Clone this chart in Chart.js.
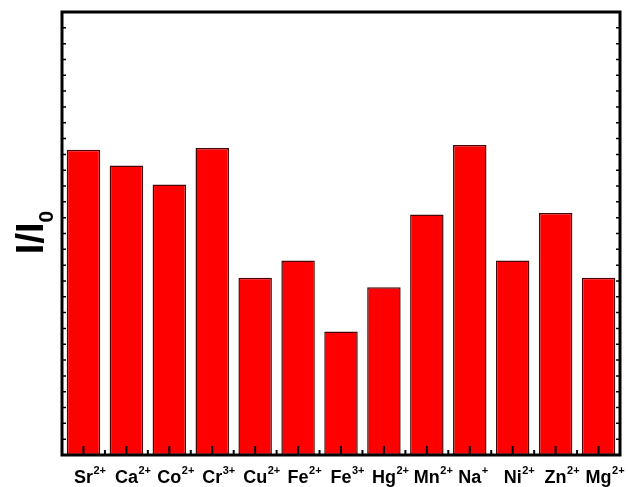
<!DOCTYPE html>
<html>
<head>
<meta charset="utf-8">
<script src="https://cdn.jsdelivr.net/npm/chart.js@4/dist/chart.umd.min.js"></script>
<style>
  html, body { margin: 0; padding: 0; background: #fff; }
  #wrap { width: 628px; height: 487px; position: relative; }
</style>
</head>
<body>
<div id="wrap"><canvas id="c" width="628" height="487"></canvas></div>
<script>
// Metal ions tested and their charges (drawn as superscripts)
const ions    = ['Sr', 'Ca', 'Co', 'Cr', 'Cu', 'Fe', 'Fe', 'Hg', 'Mn', 'Na', 'Ni', 'Zn', 'Mg'];
const charges = ['2+', '2+', '2+', '3+', '2+', '2+', '3+', '2+', '2+', '+',  '2+', '2+', '2+'];
// Relative fluorescence intensity I/I0 for each ion
const ratios  = [1.93, 1.83, 1.71, 1.94, 1.12, 1.23, 0.78, 1.06, 1.52, 1.96, 1.23, 1.53, 1.12];
// Y axis range and minor tick spacing (tick labels are not shown)
const yMin = 0, yMax = 2.8, yStep = 0.1;

const categories = ions.map((s, i) => s + charges[i]);

const FONT = '"Liberation Sans", Arial, sans-serif';

const decorations = {
  id: 'decorations',
  afterDraw(chart) {
    const { ctx, chartArea: a } = chart;
    const xs = chart.scales.x, ys = chart.scales.y;
    ctx.save();

    // y minor ticks, inward on left and right
    ctx.strokeStyle = '#000';
    ctx.lineWidth = 1.5;
    const nTicks = Math.round((yMax - yMin) / yStep);
    for (let k = 1; k < nTicks; k++) {
      const y = ys.getPixelForValue(yMin + k * yStep);
      ctx.beginPath();
      ctx.moveTo(a.left, y); ctx.lineTo(a.left + 4, y);
      ctx.moveTo(a.right, y); ctx.lineTo(a.right - 4, y);
      ctx.stroke();
    }

    // x major ticks at categories, minor ticks between them
    ctx.lineWidth = 2;
    categories.forEach((c, i) => {
      const x = xs.getPixelForValue(i);
      ctx.beginPath();
      ctx.moveTo(x, a.bottom); ctx.lineTo(x, a.bottom - 9);
      ctx.stroke();
      if (i < categories.length - 1) {
        const xm = (x + xs.getPixelForValue(i + 1)) / 2;
        ctx.beginPath();
        ctx.moveTo(xm, a.bottom); ctx.lineTo(xm, a.bottom - 5);
        ctx.stroke();
      }
    });

    // frame
    ctx.lineWidth = 3;
    ctx.strokeRect(a.left, a.top, a.right - a.left, a.bottom - a.top);

    // category labels: element symbol centred under the tick, charge as superscript after it
    ctx.fillStyle = '#000';
    ctx.textBaseline = 'alphabetic';
    ctx.textAlign = 'left';
    const mainFont = 'bold 18px ' + FONT, supFont = 'bold 11px ' + FONT;
    ions.forEach((s, i) => {
      const cx = xs.getPixelForValue(i);
      ctx.font = mainFont; const w1 = ctx.measureText(s).width;
      const x0 = cx - w1 / 2;
      ctx.fillText(s, x0, a.bottom + 28);
      ctx.font = supFont;  ctx.fillText(charges[i], x0 + w1 + 0.5, a.bottom + 19);
    });

    // y axis title I/I0
    const tMain = 'I/I', tSub = '0';
    ctx.font = 'bold 38px ' + FONT; const m1 = ctx.measureText(tMain).width;
    ctx.font = 'bold 21px ' + FONT; const m2 = ctx.measureText(tSub).width;
    const cy = (a.top + a.bottom) / 2 - 1;
    ctx.translate(43, cy);
    ctx.rotate(-Math.PI / 2);
    const sx = -(m1 + m2) / 2;
    ctx.font = 'bold 38px ' + FONT; ctx.fillText(tMain, sx, 0);
    ctx.font = 'bold 21px ' + FONT; ctx.fillText(tSub, sx + m1, 10);

    ctx.restore();
  }
};

new Chart(document.getElementById('c'), {
  type: 'bar',
  data: {
    labels: categories,
    datasets: [{
      data: ratios,
      backgroundColor: '#ff0000',
      borderColor: '#4a0606',
      borderWidth: 1.5,
      borderSkipped: false,
      categoryPercentage: 1,
      barPercentage: 0.78
    }]
  },
  options: {
    responsive: false,
    animation: false,
    devicePixelRatio: 1,
    layout: { padding: { left: 62, right: 8, top: 12, bottom: 32 } },
    plugins: { legend: { display: false }, tooltip: { enabled: false } },
    scales: {
      x: { display: false, offset: true, grid: { display: false } },
      y: { display: false, min: yMin, max: yMax, grid: { display: false } }
    }
  },
  plugins: [decorations]
});
</script>
</body>
</html>
